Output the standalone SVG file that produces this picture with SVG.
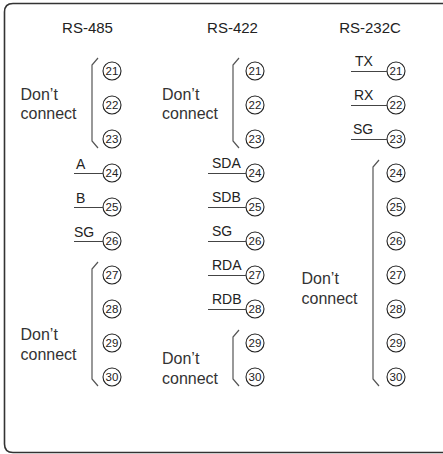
<svg xmlns="http://www.w3.org/2000/svg" width="443" height="454" viewBox="0 0 443 454">
<style>
.frame{fill:none;stroke:#333;stroke-width:1.6}
.hdr{font-family:"Liberation Sans",Arial,sans-serif;font-size:15px;fill:#222;text-anchor:middle}
.dc{font-family:"Liberation Sans",Arial,sans-serif;font-size:16px;fill:#333}
.lbl{font-family:"Liberation Sans",Arial,sans-serif;font-size:14px;fill:#222}
.pin circle{fill:#fff;stroke:#222;stroke-width:1.1}
.pin text{font-family:"Liberation Sans",Arial,sans-serif;font-size:11.5px;fill:#222;text-anchor:middle}
.ln{stroke:#444;stroke-width:1.2;fill:none}
.br{stroke:#555;stroke-width:1.2;fill:none}
</style>
<rect width="443" height="454" fill="#fff"/>
<path class="frame" d="M443,3.5 H13 Q4.5,3.5 4.5,12 V444 Q4.5,452.5 13,452.5 H443"/>

<g id="rs485">
<text class="hdr" x="87.5" y="33">RS-485</text>
<text class="dc" x="20.5" y="100">Don’t</text>
<text class="dc" x="20.5" y="119">connect</text>
<text class="dc" x="20.5" y="340">Don’t</text>
<text class="dc" x="20.5" y="360">connect</text>
<text class="lbl" x="76" y="169">A</text>
<text class="lbl" x="76" y="203">B</text>
<text class="lbl" x="74" y="237">SG</text>
<g class="pin"><circle cx="112" cy="71" r="9"/><text x="112" y="75">21</text></g>
<g class="pin"><circle cx="112" cy="105" r="9"/><text x="112" y="109">22</text></g>
<g class="pin"><circle cx="112" cy="139" r="9"/><text x="112" y="143">23</text></g>
<g class="pin"><circle cx="112" cy="173" r="9"/><text x="112" y="177">24</text></g>
<g class="pin"><circle cx="112" cy="207" r="9"/><text x="112" y="211">25</text></g>
<g class="pin"><circle cx="112" cy="241" r="9"/><text x="112" y="245">26</text></g>
<g class="pin"><circle cx="112" cy="275" r="9"/><text x="112" y="279">27</text></g>
<g class="pin"><circle cx="112" cy="309" r="9"/><text x="112" y="313">28</text></g>
<g class="pin"><circle cx="112" cy="343" r="9"/><text x="112" y="347">29</text></g>
<g class="pin"><circle cx="112" cy="377" r="9"/><text x="112" y="381">30</text></g>
</g>

<g id="rs422">
<text class="hdr" x="232.5" y="33">RS-422</text>
<text class="dc" x="162" y="100">Don’t</text>
<text class="dc" x="162" y="119">connect</text>
<text class="dc" x="162" y="364">Don’t</text>
<text class="dc" x="162" y="384">connect</text>
<text class="lbl" x="212" y="168">SDA</text>
<text class="lbl" x="212" y="202">SDB</text>
<text class="lbl" x="212" y="236">SG</text>
<text class="lbl" x="212" y="270">RDA</text>
<text class="lbl" x="212" y="304">RDB</text>
<g class="pin"><circle cx="255" cy="71" r="9"/><text x="255" y="75">21</text></g>
<g class="pin"><circle cx="255" cy="105" r="9"/><text x="255" y="109">22</text></g>
<g class="pin"><circle cx="255" cy="139" r="9"/><text x="255" y="143">23</text></g>
<g class="pin"><circle cx="255" cy="173" r="9"/><text x="255" y="177">24</text></g>
<g class="pin"><circle cx="255" cy="207" r="9"/><text x="255" y="211">25</text></g>
<g class="pin"><circle cx="255" cy="241" r="9"/><text x="255" y="245">26</text></g>
<g class="pin"><circle cx="255" cy="275" r="9"/><text x="255" y="279">27</text></g>
<g class="pin"><circle cx="255" cy="309" r="9"/><text x="255" y="313">28</text></g>
<g class="pin"><circle cx="255" cy="343" r="9"/><text x="255" y="347">29</text></g>
<g class="pin"><circle cx="255" cy="377" r="9"/><text x="255" y="381">30</text></g>
</g>

<g id="rs232c">
<text class="hdr" x="370" y="33">RS-232C</text>
<text class="dc" x="301.5" y="284">Don’t</text>
<text class="dc" x="301.5" y="304">connect</text>
<text class="lbl" x="355" y="66">TX</text>
<text class="lbl" x="354" y="100">RX</text>
<text class="lbl" x="353" y="134">SG</text>
<g class="pin"><circle cx="396" cy="71" r="9"/><text x="396" y="75">21</text></g>
<g class="pin"><circle cx="396" cy="105" r="9"/><text x="396" y="109">22</text></g>
<g class="pin"><circle cx="396" cy="139" r="9"/><text x="396" y="143">23</text></g>
<g class="pin"><circle cx="396" cy="173" r="9"/><text x="396" y="177">24</text></g>
<g class="pin"><circle cx="396" cy="207" r="9"/><text x="396" y="211">25</text></g>
<g class="pin"><circle cx="396" cy="241" r="9"/><text x="396" y="245">26</text></g>
<g class="pin"><circle cx="396" cy="275" r="9"/><text x="396" y="279">27</text></g>
<g class="pin"><circle cx="396" cy="309" r="9"/><text x="396" y="313">28</text></g>
<g class="pin"><circle cx="396" cy="343" r="9"/><text x="396" y="347">29</text></g>
<g class="pin"><circle cx="396" cy="377" r="9"/><text x="396" y="381">30</text></g>
</g>

<g id="connectors">
<path class="ln" d="M74,173.5 H103 M74,207.5 H103 M74,241.5 H103"/>
<path class="ln" d="M208,173.5 H246 M208,207.5 H246 M208,241.5 H246 M208,275.5 H246 M208,309.5 H246"/>
<path class="ln" d="M351,71.5 H387 M351,105.5 H387 M351,139.5 H387"/>
<path class="br" d="M98,58 L92,65 V141 L98,148"/>
<path class="br" d="M98,262 L92,269 V379 L98,386"/>
<path class="br" d="M239,58 L233,65 V141 L239,148"/>
<path class="br" d="M239,330 L233,337 V379 L239,386"/>
<path class="br" d="M379,160 L373,167 V379 L379,386"/>
</g>
</svg>
